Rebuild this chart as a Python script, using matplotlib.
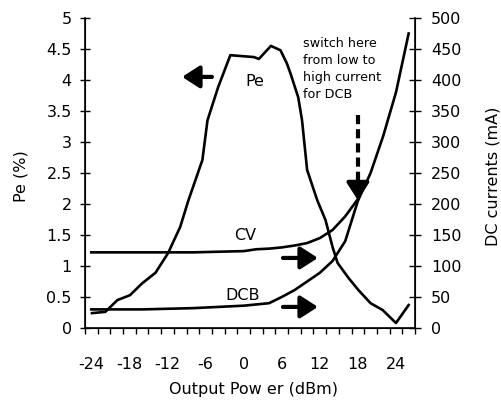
import matplotlib
matplotlib.use("Agg")
import matplotlib.pyplot as plt
from matplotlib.ticker import FixedLocator

plt.rcParams['font.family'] = ['DejaVu Sans']
plt.rcParams['axes.unicode_minus'] = False

# ---- data ----
pe_x = [-23.9, -21.8, -19.9, -17.9, -16.0, -13.9, -11.9, -10.0, -8.7, -6.5, -5.7, -4.0,
        -2.1, 1.6, 2.4, 4.3, 5.8, 6.8, 7.4, 8.6, 9.2, 10.0, 11.6, 12.9, 14.0, 14.8,
        16.5, 18.1, 20.0, 21.9, 24.0, 26.0]
pe_vals = [0.24, 0.26, 0.45, 0.53, 0.72, 0.89, 1.21, 1.63, 2.06, 2.71, 3.35, 3.89,
           4.40, 4.37, 4.34, 4.55, 4.48, 4.27, 4.10, 3.72, 3.35, 2.55, 2.06, 1.74, 1.31, 1.05,
           0.81, 0.61, 0.40, 0.29, 0.08, 0.37]

cv_x = [-24, -20, -16, -12, -8, -4, 0, 2, 4, 6, 8, 10, 12, 14, 16, 18]
cv_ma = [122, 122, 122, 122, 122, 123, 124, 127, 128, 130, 133, 137, 145, 158, 180, 208]

dcb_x = [-24, -20, -16, -12, -8, -4, 0, 2, 4, 6, 8, 10, 12, 14, 16, 18, 20, 22, 24, 26]
dcb_ma = [30, 30, 30, 31, 32, 34, 36, 38, 40, 50, 61, 75, 89, 108, 140, 205, 250, 310, 380, 475]

x_ticks = [-24, -18, -12, -6, 0, 6, 12, 18, 24]
x_minor = list(range(-25, 28, 2))
pe_ticks = [0, 0.5, 1, 1.5, 2, 2.5, 3, 3.5, 4, 4.5, 5]
pe_labels = ['0', '0.5', '1', '1.5', '2', '2.5', '3', '3.5', '4', '4.5', '5']
ma_ticks = [0, 50, 100, 150, 200, 250, 300, 350, 400, 450, 500]

fig = plt.figure(figsize=(5.02, 4.04), dpi=100)
ax = fig.add_axes([85/502, 1-328/404, 330/502, 310/404])
ax2 = ax.twinx()

lw = 1.9
ax.plot(pe_x, pe_vals, color='black', lw=lw, solid_joinstyle='round')
ax2.plot(cv_x, cv_ma, color='black', lw=lw)
ax2.plot(dcb_x, dcb_ma, color='black', lw=lw)

ax.set_xlim(-25, 27)
ax.set_ylim(0, 5)
ax2.set_ylim(0, 500)

ax.spines['top'].set_visible(False)
ax2.spines['top'].set_visible(False)
for s in ['left', 'bottom']:
    ax.spines[s].set_linewidth(1.2)
ax2.spines['right'].set_linewidth(1.2)

ax.xaxis.set_major_locator(FixedLocator(x_ticks))
ax.xaxis.set_minor_locator(FixedLocator(x_minor))
ax.set_yticks(pe_ticks)
ax.set_yticklabels(pe_labels)
ax2.set_yticks(ma_ticks)

fs = 11.5
ax.tick_params(axis='x', which='major', length=0, pad=21, labelsize=fs)
ax.tick_params(axis='x', which='minor', length=4, width=1, direction='out')
ax.tick_params(axis='y', length=7, width=1, direction='inout', pad=6, labelsize=fs)
ax2.tick_params(axis='y', length=9, width=1, direction='inout', pad=7, labelsize=fs)

ax.set_xlabel('Output Pow er (dBm)', fontsize=fs)
ax.xaxis.set_label_coords(0.51, -0.175)
ax.set_ylabel('Pe (%)', fontsize=fs)
ax.yaxis.set_label_coords(-0.172, 0.49)
ax2.set_ylabel('DC currents (mA)', fontsize=fs)
ax2.yaxis.set_label_coords(1.214, 0.49)

# annotations
head = dict(arrowstyle='-|>,head_length=0.7,head_width=0.45', lw=3, color='black',
            shrinkA=0, shrinkB=0, mutation_scale=15)
ax.annotate('', xy=(-9.7, 4.05), xytext=(-5.0, 4.05), arrowprops=head)
ax.annotate('', xy=(11.7, 1.13), xytext=(6.2, 1.13), arrowprops=head)
ax.annotate('', xy=(11.7, 0.34), xytext=(6.2, 0.34), arrowprops=head)

ax.text(1.8, 3.97, 'Pe', fontsize=fs, ha='center', va='center')
ax.text(0.2, 1.5, 'CV', fontsize=fs, ha='center', va='center')
ax.text(-0.1, 0.53, 'DCB', fontsize=fs, ha='center', va='center')

ax.text(9.3, 4.69, 'switch here\nfrom low to\nhigh current\nfor DCB', fontsize=9.2,
        ha='left', va='top', linespacing=1.4)

ax.plot([18.0, 18.0], [3.44, 2.4], color='black', lw=3, linestyle=(0, (2.2, 1.2)))
ax.annotate('', xy=(18.0, 2.06), xytext=(18.0, 2.4), arrowprops=head)

fig.savefig('out.png', dpi=100)
